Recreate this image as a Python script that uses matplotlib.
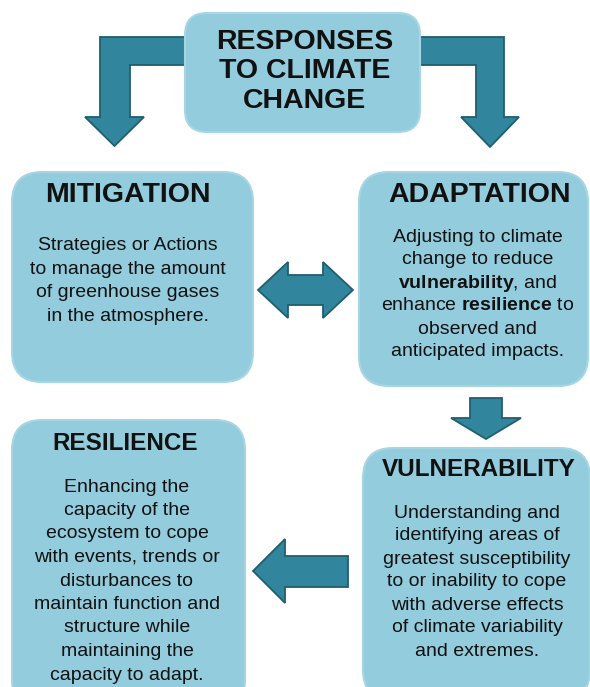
import matplotlib.pyplot as plt
from matplotlib.patches import FancyBboxPatch, Polygon

plt.rcParams['font.family'] = ['Liberation Sans', 'DejaVu Sans']
plt.rcParams['mathtext.fontset'] = 'custom'
plt.rcParams['mathtext.rm'] = 'Liberation Sans'
plt.rcParams['mathtext.bf'] = 'Liberation Sans:bold'

# diagram content
top_title = ['RESPONSES', 'TO CLIMATE', 'CHANGE']
box_titles = ['MITIGATION', 'ADAPTATION', 'RESILIENCE', 'VULNERABILITY']
mitigation_text = ['Strategies or Actions', 'to manage the amount',
                   'of greenhouse gases', 'in the atmosphere.']
adaptation_text = ['Adjusting to climate', 'change to reduce',
                   r'$\mathbf{vulnerability}$, and',
                   r'enhance $\mathbf{resilience}$ to',
                   'observed and', 'anticipated impacts.']
resilience_text = ['Enhancing the', 'capacity of the', 'ecosystem to cope',
                   'with events, trends or', 'disturbances to',
                   'maintain function and', 'structure while',
                   'maintaining the', 'capacity to adapt.']
vulnerability_text = ['Understanding and', 'identifying areas of',
                      'greatest susceptibility', 'to or inability to cope',
                      'with adverse effects', 'of climate variability',
                      'and extremes.']

BOX = '#93CDDD'
ARROW = '#31859C'
ARROW_EDGE = '#215E6E'

W, H = 590, 687
fig = plt.figure(figsize=(W / 100, H / 100), dpi=100)
ax = fig.add_axes([0, 0, 1, 1])
ax.set_xlim(0, W)
ax.set_ylim(H, 0)
ax.axis('off')


def arrow(pts):
    ax.add_patch(Polygon(pts, closed=True, fc=ARROW, ec=ARROW_EDGE, lw=1.3, zorder=1))


def box(x0, y0, x1, y1, r=30):
    ax.add_patch(FancyBboxPatch((x0, y0), x1 - x0, y1 - y0,
                                boxstyle=f'round,pad=0,rounding_size={r}',
                                fc=BOX, ec='#A6D6E3', lw=1.5, zorder=2))


def body(lines, cx, y0, step, size=14):
    for i, line in enumerate(lines):
        ax.text(cx, y0 + i * step, line, ha='center', va='center',
                fontsize=size, color='#111111', zorder=3)


# elbow arrows from the top box
arrow([(200, 37), (100, 37), (100, 117), (85, 117), (114.5, 146), (144, 117),
       (130, 117), (130, 65), (200, 65)])
arrow([(405, 37), (504, 37), (504, 117), (519, 117), (490, 147), (461, 117),
       (476, 117), (476, 65), (405, 65)])
# double arrow between mitigation and adaptation
arrow([(258, 290), (288, 262), (288, 275), (323, 275), (323, 262), (353, 290),
       (323, 318), (323, 305), (288, 305), (288, 318)])
# adaptation -> vulnerability
arrow([(470, 398), (502, 398), (502, 418), (521, 418), (486, 439), (451, 418),
       (470, 418)])
# vulnerability -> resilience
arrow([(348, 556), (285, 556), (285, 539), (253, 571), (285, 603), (285, 587),
       (348, 587)])

box(185, 13, 420, 132, r=22)
box(12, 172, 253, 382)
box(359, 172, 588, 386)
box(12, 420, 245, 710)
box(363, 448, 590, 700)

for i, line in enumerate(top_title):
    ax.text(305, 42 + i * 29.5, line, ha='center', va='center', fontsize=20.5,
            fontweight='bold', color='#111111', zorder=3)

title_pos = [(128, 195, 20.5), (480, 195, 20.5), (125, 443, 17.5), (479, 470, 17.5)]
for t, (cx, cy, fs) in zip(box_titles, title_pos):
    ax.text(cx, cy, t, ha='center', va='center', fontsize=fs,
            fontweight='bold', color='#111111', zorder=3)

body(mitigation_text, 128, 246, 23.4)
body(adaptation_text, 478, 237, 23)
body(resilience_text, 127, 487, 23.5)
body(vulnerability_text, 477, 513, 23)

fig.savefig('out.png', dpi=100)
